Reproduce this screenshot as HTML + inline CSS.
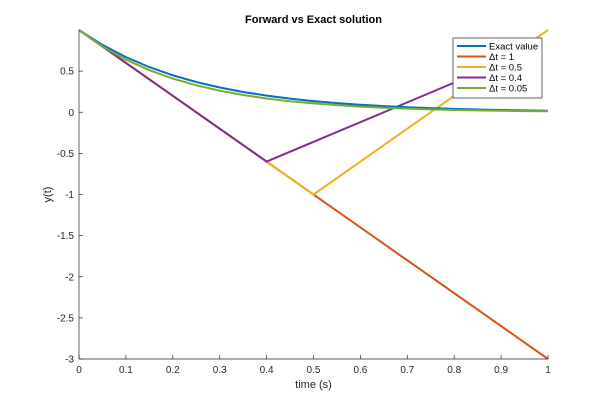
<!DOCTYPE html>
<html><head><meta charset="utf-8"><style>
body{margin:0;background:#fff;}
svg{display:block;font-family:"Liberation Sans",Arial,sans-serif;}
</style></head><body>
<svg id="chart" width="607" height="404" viewBox="0 0 607 404">
<rect width="607" height="404" fill="#fff"/>
<g id="plot"></g>
</svg>
<script>
const xTicks=[0,0.1,0.2,0.3,0.4,0.5,0.6,0.7,0.8,0.9,1];
const xTickLabels=["0","0.1","0.2","0.3","0.4","0.5","0.6","0.7","0.8","0.9","1"];
const yTicks=[-3,-2.5,-2,-1.5,-1,-0.5,0,0.5];
const yTickLabels=["-3","-2.5","-2","-1.5","-1","-0.5","0","0.5"];
const seriesNames=["Exact value","\u0394t = 1","\u0394t = 0.5","\u0394t = 0.4","\u0394t = 0.05"];
const seriesColors=["#0072bd","#d95319","#edb120","#7e2f8e","#77ac30"];
const exactT=[0,0.05,0.1,0.15,0.2,0.25,0.3,0.35,0.4,0.45,0.5,0.55,0.6,0.65,0.7,0.75,0.8,0.85,0.9,0.95,1];
const exactY=[1,0.8187,0.6703,0.5488,0.4493,0.3679,0.3012,0.2466,0.2019,0.1653,0.1353,0.1108,0.0907,0.0743,0.0608,0.0498,0.0408,0.0334,0.0273,0.0224,0.0183];
const dt1T=[0,1];
const dt1Y=[1,-3];
const dt05T=[0,0.5,1];
const dt05Y=[1,-1,1];
const dt04T=[0,0.4,0.8];
const dt04Y=[1,-0.6,0.36];
const dt005T=[0,0.05,0.1,0.15,0.2,0.25,0.3,0.35,0.4,0.45,0.5,0.55,0.6,0.65,0.7,0.75,0.8,0.85,0.9,0.95,1];
const dt005Y=[1,0.8,0.64,0.512,0.4096,0.3277,0.2621,0.2097,0.1678,0.1342,0.1074,0.0859,0.0687,0.055,0.044,0.0352,0.0281,0.0225,0.018,0.0144,0.0115];

const NS="http://www.w3.org/2000/svg";
const L=79,R=548,T=30,B=359,xMin=0,xMax=1,yMin=-3,yMax=1;
const sx=v=>L+(v-xMin)/(xMax-xMin)*(R-L);
const sy=v=>B-(v-yMin)/(yMax-yMin)*(B-T);
const g=document.getElementById('plot');
function mk(tag,attrs,parent){const e=document.createElementNS(NS,tag);for(const k in attrs)e.setAttribute(k,attrs[k]);(parent||g).appendChild(e);return e;}

const defs=mk('defs',{});
const cp=mk('clipPath',{id:'clip'},defs);
mk('rect',{x:L-2,y:T-2,width:R-L+4,height:B-T+4},cp);

const allT=[exactT,dt1T,dt05T,dt04T,dt005T];
const allY=[exactY,dt1Y,dt05Y,dt04Y,dt005Y];
const seriesKeys=["exact","dt-1","dt-0-5","dt-0-4","dt-0-05"];
const sg=mk('g',{'clip-path':'url(#clip)'});
[1,2,3,0,4].forEach(i=>{
  const pts=allT[i].map((t,j)=>sx(t).toFixed(2)+','+sy(allY[i][j]).toFixed(2)).join(' ');
  const p=mk('polyline',{points:pts,fill:'none',stroke:seriesColors[i],'stroke-width':2},sg);
  
  
});
const xa=mk('line',{x1:L,x2:R,y1:B,y2:B,stroke:'#262626','stroke-width':0.7});


const ya=mk('line',{x1:L,x2:L,y1:T,y2:B,stroke:'#262626','stroke-width':0.7});


xTicks.forEach((v,i)=>{
  const x=sx(v);
  mk('line',{x1:x,x2:x,y1:B,y2:B-4,stroke:'#262626','stroke-width':0.7});
  const t=mk('text',{x:x,y:B+14,'text-anchor':'middle','font-size':10,fill:'#262626'});
  t.textContent=xTickLabels[i];
  
  
});
yTicks.forEach((v,i)=>{
  const y=sy(v);
  mk('line',{x1:L,x2:L+4,y1:y,y2:y,stroke:'#262626','stroke-width':0.7});
  const t=mk('text',{x:L-5,y:y+3.5,'text-anchor':'end','font-size':10,fill:'#262626'});
  t.textContent=yTickLabels[i];
  
  
});
const xt=mk('text',{x:(L+R)/2,y:388,'text-anchor':'middle','font-size':11,fill:'#262626'});
xt.textContent='time (s)';


const yt=mk('text',{x:0,y:0,'text-anchor':'middle','font-size':11,fill:'#262626',transform:'translate(51,'+((T+B)/2)+') rotate(-90)'});
yt.textContent='y(t)';


const tt=mk('text',{x:(L+R)/2,y:23,'text-anchor':'middle','font-size':11,'font-weight':'bold',fill:'#000'});
tt.textContent='Forward vs Exact solution';


const lg=mk('g',{});


mk('rect',{x:453,y:38,width:89,height:60,fill:'#fff',stroke:'#262626','stroke-width':0.7},lg);
seriesNames.forEach((n,i)=>{
  const y=46+i*10.5;
  const e=mk('g',{},lg);
  
  
  mk('line',{x1:457,x2:486,y1:y,y2:y,stroke:seriesColors[i],'stroke-width':2},e);
  const t=mk('text',{x:489,y:y+3.5,'font-size':9.5,fill:'#000'},e);
  t.textContent=n;
});
</script>
</body></html>
